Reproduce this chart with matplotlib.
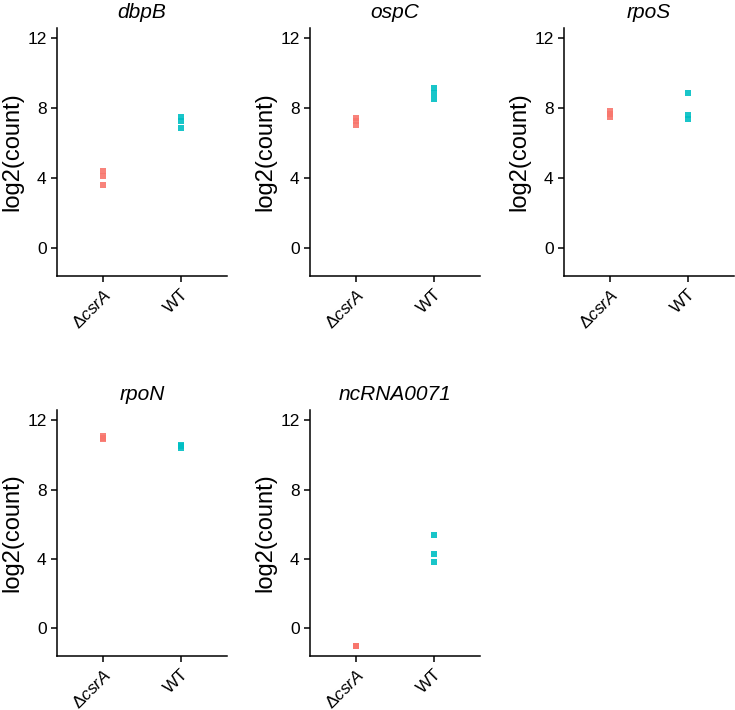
import matplotlib
matplotlib.use('Agg')
import matplotlib.pyplot as plt

plt.rcParams['font.family'] = ['Liberation Sans', 'DejaVu Sans']
plt.rcParams['mathtext.fontset'] = 'custom'
plt.rcParams['mathtext.rm'] = 'Liberation Sans'
plt.rcParams['mathtext.it'] = 'Liberation Sans:italic'

genes = ['dbpB', 'ospC', 'rpoS', 'rpoN', 'ncRNA0071']
groups = [r'$\Delta\mathit{csrA}$', 'WT']
colors = ['#F8766D', '#00BFC4']

# log2(count) per gene: (csrA mutant, WT)
dbpB = ([4.4, 4.1, 3.6], [7.5, 7.3, 6.9])
ospC = ([7.45, 7.25, 7.05], [9.15, 8.85, 8.55])
rpoS = ([7.85, 7.65, 7.5], [8.9, 7.6, 7.4])
rpoN = ([11.1, 11.0, 10.9], [10.6, 10.5, 10.4])
ncRNA0071 = ([-1.0, -1.0, -1.0], [5.4, 4.3, 3.8])
values = [dbpB, ospC, rpoS, rpoN, ncRNA0071]

W, H = 735, 710
fig = plt.figure(figsize=(W / 100, H / 100), dpi=100)

# panel boxes in pixels: left, top, right, bottom
boxes = [(57, 28, 227, 276), (310, 28, 480, 276), (564, 28, 734, 276),
         (57, 410, 227, 656), (310, 410, 480, 656)]

for gene, vals, (l, t, r, b) in zip(genes, values, boxes):
    ax = fig.add_axes([l / W, 1 - b / H, (r - l) / W, (b - t) / H])
    for i, (v, c) in enumerate(zip(vals, colors)):
        ax.plot([i + 1] * len(v), v, 's', color=c, markersize=4.6,
                markeredgewidth=0, alpha=0.9)
    ax.set_xlim(0.4, 2.6)
    ax.set_ylim(-1.6, 12.6)
    ax.set_yticks([0, 4, 8, 12])
    ax.set_xticks([1, 2])
    ax.set_xticklabels(groups, rotation=45, ha='right', rotation_mode='anchor')
    ax.set_title(gene, fontstyle='italic', fontsize=15, pad=7)
    ax.set_ylabel('log2(count)', fontsize=17, labelpad=3)
    for s in ['top', 'right']:
        ax.spines[s].set_visible(False)
    for s in ['left', 'bottom']:
        ax.spines[s].set_linewidth(1.1)
    ax.tick_params(labelsize=12.5, length=4, width=1.1, colors='black')

plt.savefig('out.png', dpi=100)
